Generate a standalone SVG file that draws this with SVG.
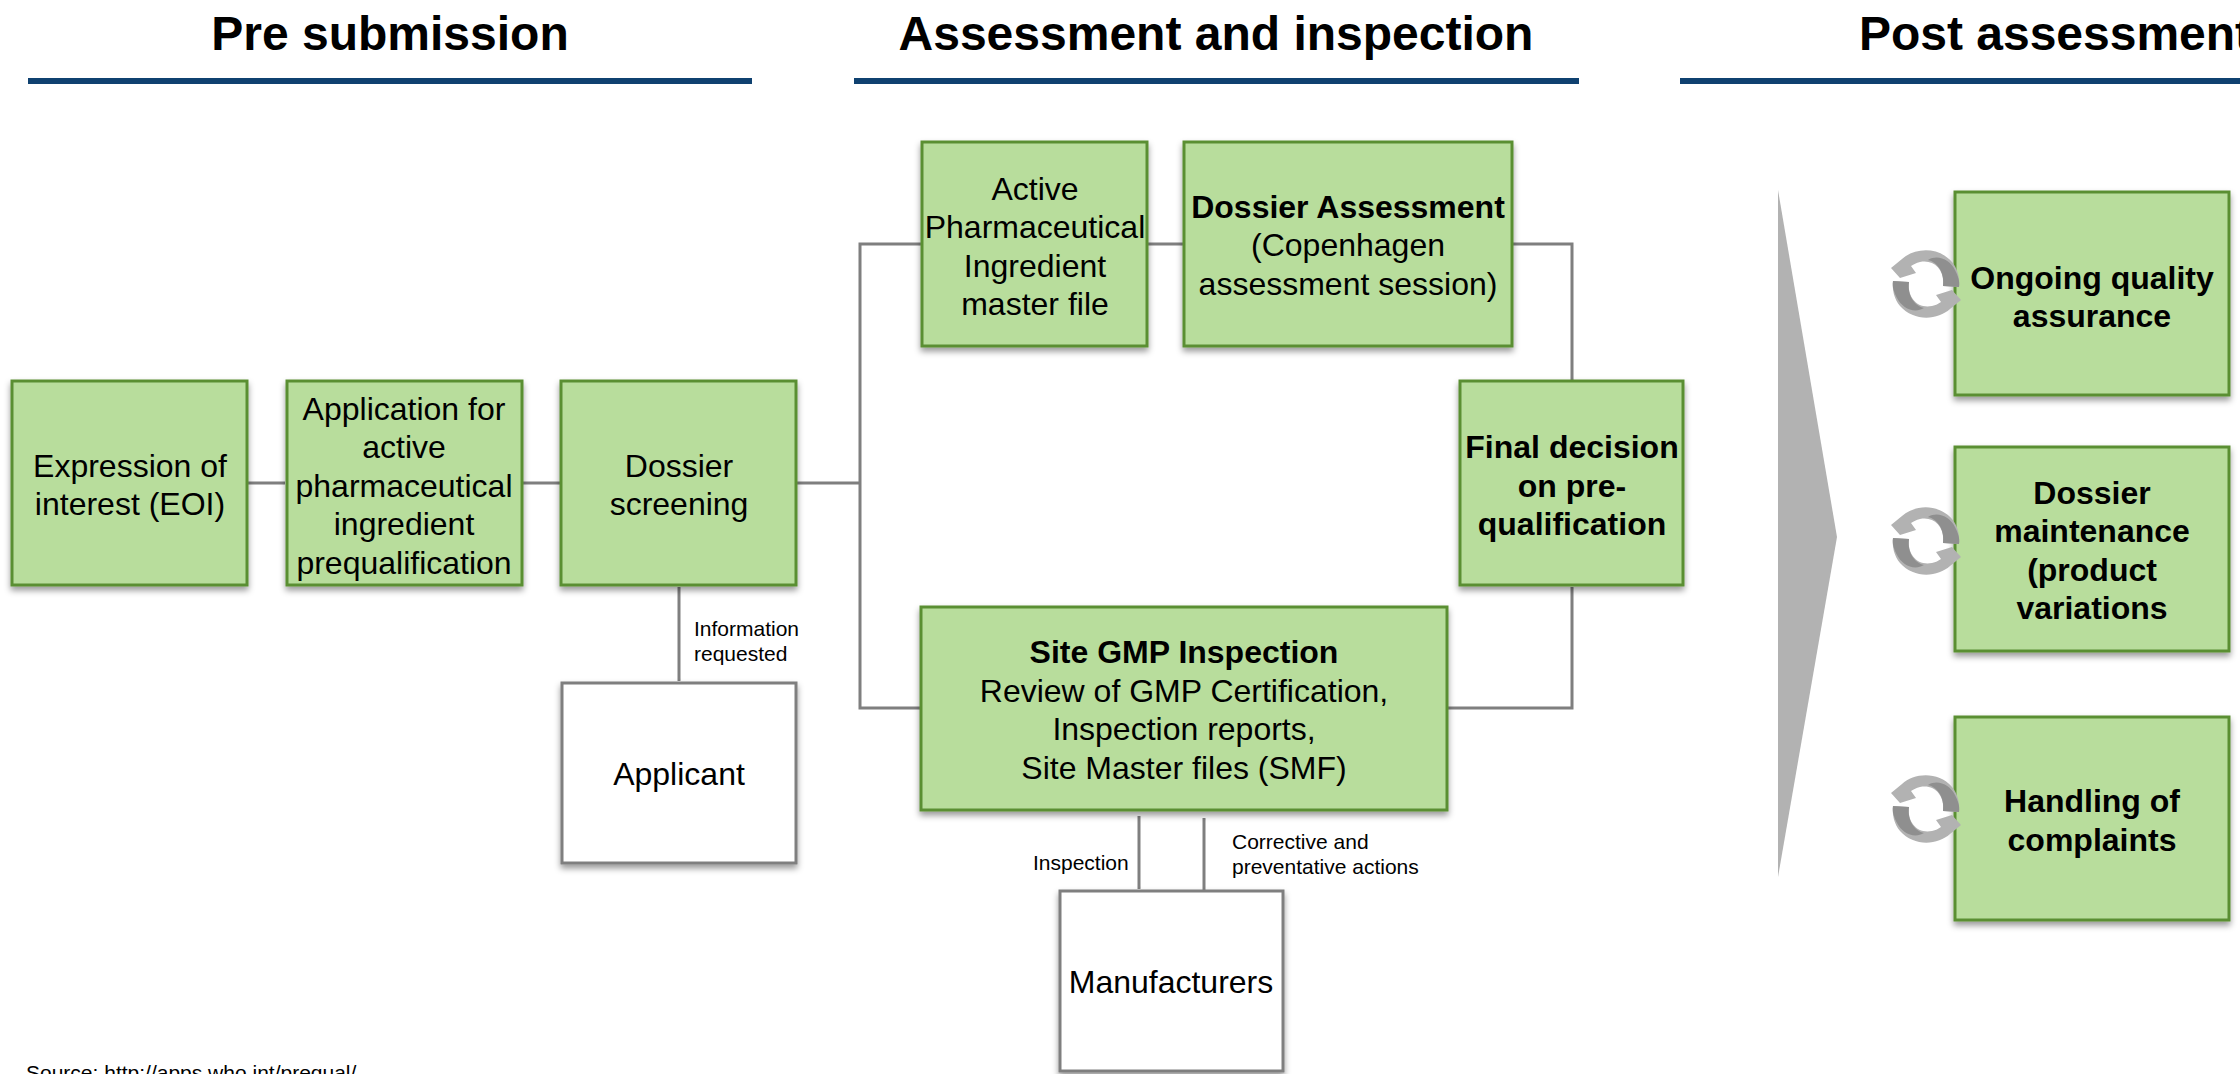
<svg xmlns="http://www.w3.org/2000/svg" width="2240" height="1074" viewBox="0 0 2240 1074" font-family="'Liberation Sans', Arial, sans-serif">
<style>
text{font-family:"Liberation Sans",Arial,sans-serif;fill:#000;text-anchor:middle}
.h{font-size:48px;font-weight:700}
.t{font-size:32px}
.b{font-weight:700}
.s{font-size:21px;text-anchor:start}
.g{fill:#b8dd9c;stroke:#5a8f33;stroke-width:3;filter:url(#sh)}
.w{fill:#fff;stroke:#7f7f7f;stroke-width:3;filter:url(#sh)}
.r{fill:#0f4170}
.c{fill:none;stroke:#7f7f7f;stroke-width:3;marker-end:url(#a)}
.n{fill:none;stroke:#7f7f7f;stroke-width:3}
.i1{fill:#b2b2b2}
.i2{fill:#8f8f8f}
</style>
<defs>
<filter id="sh" x="-10%" y="-10%" width="120%" height="125%"><feDropShadow dx="0" dy="4" stdDeviation="3" flood-color="#000" flood-opacity=".4"/></filter>
<marker id="a" markerUnits="userSpaceOnUse" viewBox="-24 -14 28 28" width="28" height="28" refX="0" refY="0" orient="auto-start-reverse"><path d="M-19,-10 L0,0 L-19,10" fill="none" stroke="#7f7f7f" stroke-width="3"/></marker>
<g id="cyc">
<path class="i1" d="M33,3 L17,2 C19,-14 8,-25 -6,-22 C-10,-21 -12,-20 -15,-18 L-10,-11 L-26,-6 L-35,-16 L-24,-25 C-12,-36 12,-38 26,-22 C32,-15 34,-5 33,3Z"/>
<path class="i2" d="M33,3 L17,2 C19,-12 11,-22 2,-24 C12,-30 24,-24 29,-14 C32,-8 34,-3 33,3Z"/>
<path class="i1" d="M-33,-3 L-17,-2 C-19,14 -8,25 6,22 C10,21 12,20 15,18 L10,11 L26,6 L35,16 L24,25 C12,36 -12,38 -26,22 C-32,15 -34,5 -33,-3Z"/>
<path class="i2" d="M-33,-3 L-17,-2 C-19,12 -11,22 -2,24 C-12,30 -24,24 -29,14 C-32,8 -34,3 -33,-3Z"/>
</g>
</defs>
<g id="headings">
<text class="h" x="390" y="50">Pre submission</text>
<text class="h" x="1216" y="50">Assessment and inspection</text>
<text class="h" x="2055" y="50">Post assessment</text>
<rect class="r" x="28" y="78" width="724" height="6"/>
<rect class="r" x="854" y="78" width="725" height="6"/>
<rect class="r" x="1680" y="78" width="560" height="6"/>
</g>
<g id="connectors">
<path class="c" d="M247,483H285"/>
<path class="c" d="M522,483H560"/>
<path class="n" d="M796,483H860"/>
<path class="c" d="M860,483V244H921"/>
<path class="c" d="M860,483V708H921"/>
<path class="c" d="M1147,244H1183"/>
<path class="c" d="M1513,244H1572V381"/>
<path class="c" d="M1447,708H1572V587"/>
<path class="c" d="M679,681V587" marker-start="url(#a)"/>
<path class="c" d="M1139,816V889"/>
<path class="c" d="M1204,891V818"/>
</g>
<g id="n-eoi"><rect class="g" x="12" y="381" width="235" height="204"/><text class="t" x="130" y="477">Expression of</text><text class="t" x="130" y="515">interest (EOI)</text></g>
<g id="n-app"><rect class="g" x="287" y="381" width="235" height="204"/><text class="t" x="404" y="420">Application for</text><text class="t" x="404" y="458">active</text><text class="t" x="404" y="497">pharmaceutical</text><text class="t" x="404" y="535">ingredient</text><text class="t" x="404" y="574">prequalification</text></g>
<g id="n-screen"><rect class="g" x="561" y="381" width="235" height="204"/><text class="t" x="679" y="477">Dossier</text><text class="t" x="679" y="515">screening</text></g>
<g id="n-applicant"><rect class="w" x="562" y="683" width="234" height="180"/><text class="t" x="679" y="785">Applicant</text></g>
<g id="n-api"><rect class="g" x="922" y="142" width="225" height="204"/><text class="t" x="1035" y="200">Active</text><text class="t" x="1035" y="238">Pharmaceutical</text><text class="t" x="1035" y="277">Ingredient</text><text class="t" x="1035" y="315">master file</text></g>
<g id="n-assess"><rect class="g" x="1184" y="142" width="328" height="204"/><text class="t b" x="1348" y="218">Dossier Assessment</text><text class="t" x="1348" y="256">(Copenhagen</text><text class="t" x="1348" y="295">assessment session)</text></g>
<g id="n-final"><rect class="g" x="1460" y="381" width="223" height="204"/><text class="t b" x="1572" y="458">Final decision</text><text class="t b" x="1572" y="497">on pre-</text><text class="t b" x="1572" y="535">qualification</text></g>
<g id="n-gmp"><rect class="g" x="921" y="607" width="526" height="203"/><text class="t b" x="1184" y="663">Site GMP Inspection</text><text class="t" x="1184" y="702">Review of GMP Certification,</text><text class="t" x="1184" y="740">Inspection reports,</text><text class="t" x="1184" y="779">Site Master files (SMF)</text></g>
<g id="n-manu"><rect class="w" x="1060" y="891" width="223" height="180"/><text class="t" x="1171" y="993">Manufacturers</text></g>
<g id="labels">
<text class="s" x="694" y="636">Information</text><text class="s" x="694" y="661">requested</text>
<text class="s" x="1033" y="870">Inspection</text>
<text class="s" x="1232" y="849">Corrective and</text><text class="s" x="1232" y="874">preventative actions</text>
<text class="s" x="26" y="1080">Source: http://apps.who.int/prequal/</text>
</g>
<path id="wedge" d="M1778,190L1837,537L1778,877Z" fill="#b2b2b2"/>
<g id="n-ongoing"><rect class="g" x="1955" y="192" width="274" height="203"/><text class="t b" x="2092" y="289">Ongoing quality</text><text class="t b" x="2092" y="327">assurance</text><use href="#cyc" x="1926" y="284"/></g>
<g id="n-maint"><rect class="g" x="1955" y="447" width="274" height="204"/><text class="t b" x="2092" y="504">Dossier</text><text class="t b" x="2092" y="542">maintenance</text><text class="t b" x="2092" y="581">(product</text><text class="t b" x="2092" y="619">variations</text></g>
<g id="n-handling"><rect class="g" x="1955" y="717" width="274" height="203"/><text class="t b" x="2092" y="812">Handling of</text><text class="t b" x="2092" y="851">complaints</text><use href="#cyc" x="1926" y="809"/></g>
<use href="#cyc" x="1926" y="541"/>
</svg>
